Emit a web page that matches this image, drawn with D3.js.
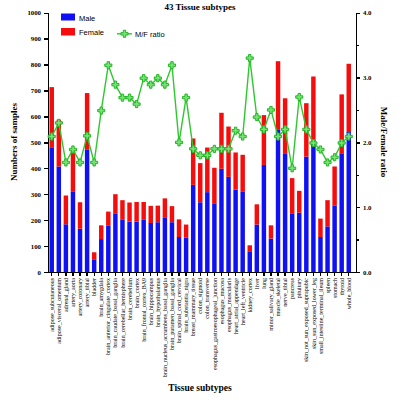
<!DOCTYPE html>
<html lang="en">
<head>
<meta charset="utf-8">
<script src="https://d3js.org/d3.v7.min.js"></script>
<style>
body { margin: 0; background: #fff; }
.axis path, .axis line { stroke: #000; stroke-width: 1.3; shape-rendering: crispEdges; }
</style>
</head>
<body>
<svg id="chart" width="400" height="400"></svg>
<script>
// tissue subtypes (x categories)
var tissues = ["adipose_subcutaneous","adipose_visceral_omentum","adrenal_gland","artery_aorta","artery_coronary",
  "artery_tibial","bladder","brain_amygdala","brain_anterior_cingulate_cortex","brain_caudate_basal_ganglia",
  "brain_cerebellar_hemisphere","brain_cerebellum","brain_cortex","brain_frontal_cortex_BA9","brain_hippocampus",
  "brain_hypothalamus","brain_nucleus_accumbens_basal_ganglia","brain_putamen_basal_ganglia","brain_spinal_cord_cervical",
  "brain_substantia_nigra","breast_mammary_tissue","colon_sigmoid","colon_transverse",
  "esophagus_gastroesophageal_junction","esophagus_mucosa","esophagus_muscularis","heart_atrial_appendage",
  "heart_left_ventricle","kidney_cortex","liver","lung","minor_salivary_gland","muscle_skeletal","nerve_tibial",
  "pancreas","pituitary","skin_not_sun_exposed_suprapubic","skin_sun_exposed_lower_leg",
  "small_intestine_terminal_ileum","spleen","stomach","thyroid","whole_blood"];

// sample counts
var male = [481,407,184,309,167,471,49,127,178,224,201,194,194,201,189,192,211,192,135,132,
  336,269,308,265,398,367,318,309,80,183,413,129,548,458,224,229,445,502,135,176,257,458,543];
var female = [232,180,111,168,102,219,27,53,55,76,76,74,76,69,66,64,73,62,68,51,
  179,151,172,137,216,194,143,143,23,78,192,51,265,212,138,84,206,252,71,101,150,227,260];

// M/F ratio (right axis)
var ratio = [2.09,2.30,1.69,1.89,1.69,2.10,1.69,2.49,3.19,2.89,2.69,2.69,2.59,2.99,2.89,2.99,2.89,3.19,2.00,2.69,
  1.90,1.80,1.80,1.90,1.90,1.90,2.18,2.09,3.30,2.39,2.20,2.50,2.09,2.20,1.60,2.70,2.20,1.99,1.89,1.69,1.77,1.99,2.09];

var leftTicks = [0,100,200,300,400,500,600,700,800,900,1000];
var rightTicks = [0,1,2,3,4];

var svg = d3.select("#chart");
var serif = "'Liberation Serif', 'DejaVu Serif', serif";
var sans = "'Liberation Sans', Arial, sans-serif";

var x = d3.scaleBand().domain(tissues).range([46.9, 353.6]).padding(0.37);
var y = d3.scaleLinear().domain([0, 1000]).range([272, 12.7]);
var yR = d3.scaleLinear().domain([0, 4]).range([272, 12.7]);

// stacked bars: male bottom, female on top
svg.append("g").selectAll("rect.m")
  .data(tissues)
  .enter().append("rect")
  .attr("x", function(d) { return x(d); })
  .attr("width", x.bandwidth())
  .attr("y", function(d, i) { return y(male[i]); })
  .attr("height", function(d, i) { return y(0) - y(male[i]); })
  .attr("fill", "#1010f5");

svg.append("g").selectAll("rect.f")
  .data(tissues)
  .enter().append("rect")
  .attr("x", function(d) { return x(d); })
  .attr("width", x.bandwidth())
  .attr("y", function(d, i) { return y(male[i] + female[i]); })
  .attr("height", function(d, i) { return y(male[i]) - y(male[i] + female[i]); })
  .attr("fill", "#f50d0d");

// left axis
var gL = svg.append("g").attr("class", "axis")
  .attr("transform", "translate(48,0)")
  .call(d3.axisLeft(y).tickValues(leftTicks).tickFormat(d3.format("d")).tickSize(4).tickSizeOuter(0));
gL.selectAll("text").attr("font-family", serif).attr("font-weight", "bold").attr("font-size", "6.8px");

// right axis
var gR = svg.append("g").attr("class", "axis")
  .attr("transform", "translate(356,0)")
  .call(d3.axisRight(yR).tickValues([0.5,1.5,2.5,3.5]).tickSize(2.5).tickFormat("").tickSizeOuter(0));
var gR2 = svg.append("g").attr("class", "axis")
  .attr("transform", "translate(356,0)")
  .call(d3.axisRight(yR).tickValues(rightTicks).tickSize(4).tickSizeOuter(0));
gR2.selectAll("text").attr("font-family", serif).attr("font-weight", "bold").attr("font-size", "6.8px");

// bottom axis
var gB = svg.append("g").attr("class", "axis")
  .attr("transform", "translate(0,272)")
  .call(d3.axisBottom(x).tickSize(4).tickSizeOuter(0));
gB.select(".domain").attr("d", "M48,0.5H356");
gB.selectAll("text")
  .attr("font-family", serif).attr("font-size", "6px")
  .attr("transform", "rotate(-90)")
  .attr("text-anchor", "end")
  .attr("x", -6).attr("y", 0).attr("dy", "0.35em");

// ratio line
var line = d3.line()
  .x(function(d, i) { return x(tissues[i]) + x.bandwidth() / 2; })
  .y(function(d) { return yR(d); });
svg.append("path").datum(ratio)
  .attr("d", line).attr("fill", "none")
  .attr("stroke", "#2ec82e").attr("stroke-width", 1.4);
svg.append("g").selectAll("path")
  .data(ratio)
  .enter().append("path")
  .attr("d", d3.symbol().type(d3.symbolCross).size(28))
  .attr("transform", function(d, i) { return "translate(" + (x(tissues[i]) + x.bandwidth() / 2) + "," + yR(d) + ")"; })
  .attr("fill", "#7be07b").attr("stroke", "#22b822").attr("stroke-width", 1);

// legend
svg.append("rect").attr("x", 61).attr("y", 13.5).attr("width", 14).attr("height", 7).attr("fill", "#1010f5");
svg.append("text").attr("x", 79).attr("y", 20.5).text("Male")
  .attr("font-family", sans).attr("font-size", "7.5px");
svg.append("rect").attr("x", 61).attr("y", 28).attr("width", 14).attr("height", 7.5).attr("fill", "#f50d0d");
svg.append("text").attr("x", 79).attr("y", 34.5).text("Female")
  .attr("font-family", sans).attr("font-size", "7.5px");
svg.append("line").attr("x1", 117).attr("x2", 132).attr("y1", 33.8).attr("y2", 33.8)
  .attr("stroke", "#2ec82e").attr("stroke-width", 1.4);
svg.append("path").attr("d", d3.symbol().type(d3.symbolCross).size(28))
  .attr("transform", "translate(124.5,33.8)")
  .attr("fill", "#7be07b").attr("stroke", "#22b822").attr("stroke-width", 1);
svg.append("text").attr("x", 135).attr("y", 36.5).text("M/F ratio")
  .attr("font-family", sans).attr("font-size", "7.5px");

// titles
svg.append("text").attr("x", 200).attr("y", 10).attr("text-anchor", "middle")
  .attr("font-family", serif).attr("font-weight", "bold").attr("font-size", "9px")
  .text("43 Tissue subtypes");
svg.append("text").attr("text-anchor", "middle")
  .attr("transform", "translate(17,142) rotate(-90)")
  .attr("font-family", serif).attr("font-weight", "bold").attr("font-size", "9px")
  .text("Numbers of samples");
svg.append("text").attr("text-anchor", "middle")
  .attr("transform", "translate(381,142) rotate(90)")
  .attr("font-family", serif).attr("font-weight", "bold").attr("font-size", "9px")
  .text("Male/Female ratio");
svg.append("text").attr("x", 200).attr("y", 391).attr("text-anchor", "middle")
  .attr("font-family", serif).attr("font-weight", "bold").attr("font-size", "9.5px")
  .text("Tissue subtypes");
</script>
</body>
</html>
